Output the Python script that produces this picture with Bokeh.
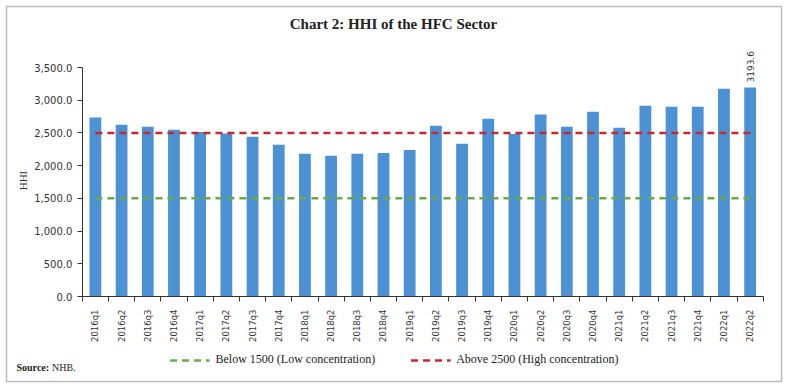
import math
from bokeh.plotting import figure
from bokeh.models import (ColumnDataSource, FixedTicker, NumeralTickFormatter, Label,
                          Legend, LegendItem, Range1d, BoxAnnotation)
from bokeh.core.properties import value
from bokeh.embed import file_html
from bokeh.resources import INLINE

quarters = ["2016q1", "2016q2", "2016q3", "2016q4",
            "2017q1", "2017q2", "2017q3", "2017q4",
            "2018q1", "2018q2", "2018q3", "2018q4",
            "2019q1", "2019q2", "2019q3", "2019q4",
            "2020q1", "2020q2", "2020q3", "2020q4",
            "2021q1", "2021q2", "2021q3", "2021q4",
            "2022q1", "2022q2"]
hhi = [2735, 2625, 2595, 2550,
       2515, 2490, 2440, 2320,
       2180, 2150, 2180, 2195,
       2240, 2610, 2335, 2715,
       2485, 2780, 2595, 2825,
       2580, 2915, 2900, 2900,
       3175, 3193.6]
low_threshold = [1500] * len(quarters)
high_threshold = [2500] * len(quarters)
y_ticks = [0, 500, 1000, 1500, 2000, 2500, 3000, 3500]

pos = [i + 0.5 for i in range(len(quarters))]
src = ColumnDataSource(dict(x=pos, q=quarters, hhi=hhi, low=low_threshold, high=high_threshold))

# the plotting frame covers the whole canvas; axes are pinned at x=0 / y=0
W, H = 788, 388
px_per_cat = 26.19
px_per_unit = 229 / 3500
x_left_px, y_zero_px = 81.8, 296
x_range = Range1d(-x_left_px / px_per_cat, (W - x_left_px) / px_per_cat)
y_range = Range1d(-(H - y_zero_px) / px_per_unit, y_zero_px / px_per_unit)

p = figure(width=W, height=H, output_backend="svg", toolbar_location=None,
           x_range=x_range, y_range=y_range,
           min_border_left=0, min_border_right=0, min_border_top=0, min_border_bottom=0)
p.title = None
p.outline_line_color = None
p.xgrid.visible = False
p.ygrid.visible = False

p.vbar(x="x", top="hhi", width=0.45, source=src, fill_color="#4b91d4", line_color=None)
r_low = p.line(x="x", y="low", source=src, line_color="#6aaa4a", line_width=2.5, line_dash="7 5")
r_high = p.line(x="x", y="high", source=src, line_color="#c8282d", line_width=2.5, line_dash="7 5")

# axes
xa = p.xaxis[0]
xa.fixed_location = 0
xa.bounds = (0, len(quarters))
xa.ticker = FixedTicker(ticks=pos, minor_ticks=list(range(len(quarters) + 1)))
xa.major_label_overrides = {x: q for x, q in zip(pos, quarters)}
xa.major_label_orientation = math.pi / 2
xa.major_tick_line_color = None
xa.major_tick_out = 0
xa.major_tick_in = 0
xa.minor_tick_out = 5
xa.minor_tick_in = 0
xa.minor_tick_line_color = "#333333"
xa.axis_line_color = "#333333"
xa.major_label_standoff = 8
xa.major_label_text_font = "DejaVu Sans"
xa.major_label_text_font_size = "8.5px"
xa.major_label_text_color = "#333333"

ya = p.yaxis[0]
ya.fixed_location = 0
ya.bounds = (0, 3500)
ya.ticker = FixedTicker(ticks=y_ticks)
ya.formatter = NumeralTickFormatter(format="0,0.0")
ya.minor_tick_line_color = None
ya.major_tick_out = 5
ya.major_tick_in = 0
ya.major_tick_line_color = "#333333"
ya.axis_line_color = "#333333"
ya.major_label_standoff = 5
ya.major_label_text_font = "DejaVu Sans"
ya.major_label_text_font_size = "10px"
ya.major_label_text_color = "#333333"

# data label on last bar
p.text(x=[pos[-1]], y=[hhi[-1]], text=[f"{hhi[-1]:.1f}"], angle=math.pi / 2,
       text_align="left", text_baseline="middle", y_offset=-5,
       text_font=value("DejaVu Sans"), text_font_size="9px", text_color="#333333")

legend = Legend(items=[LegendItem(label="Below 1500 (Low concentration)", renderers=[r_low]),
                       LegendItem(label="Above 2500 (High concentration)", renderers=[r_high])],
                orientation="horizontal", location="bottom_center", padding=0, margin=21,
                spacing=35, glyph_width=40, glyph_height=14, label_standoff=6,
                label_text_font="Liberation Serif", label_text_font_size="12px",
                label_text_color="#222222", border_line_color=None, background_fill_alpha=0)
p.add_layout(legend)

# texts in screen units (y measured upward from the bottom edge)
p.add_layout(Label(x=393, y=H - 23, x_units="screen", y_units="screen",
                   text="Chart 2: HHI of the HFC Sector", text_align="center", text_baseline="middle",
                   text_font="Liberation Serif", text_font_style="bold", text_font_size="15px",
                   text_color="#222222"))
p.add_layout(Label(x=22, y=H - 180, x_units="screen", y_units="screen", angle=math.pi / 2,
                   text="HHI", text_align="center", text_baseline="middle",
                   text_font="Liberation Serif", text_font_size="11px", text_color="#333333"))
p.add_layout(Label(x=16, y=H - 367, x_units="screen", y_units="screen",
                   text="Source:", text_align="left", text_baseline="middle",
                   text_font="Liberation Serif", text_font_style="bold", text_font_size="10px",
                   text_color="#222222"))
p.add_layout(Label(x=51.5, y=H - 367, x_units="screen", y_units="screen",
                   text="NHB.", text_align="left", text_baseline="middle",
                   text_font="Liberation Serif", text_font_size="10px", text_color="#222222"))
p.add_layout(BoxAnnotation(left=6, right=781, top=H - 6, bottom=H - 381,
                           left_units="screen", right_units="screen",
                           top_units="screen", bottom_units="screen",
                           fill_alpha=0, line_color="#222222", line_width=1.5))

open("out.html", "w").write(file_html(p, INLINE))
